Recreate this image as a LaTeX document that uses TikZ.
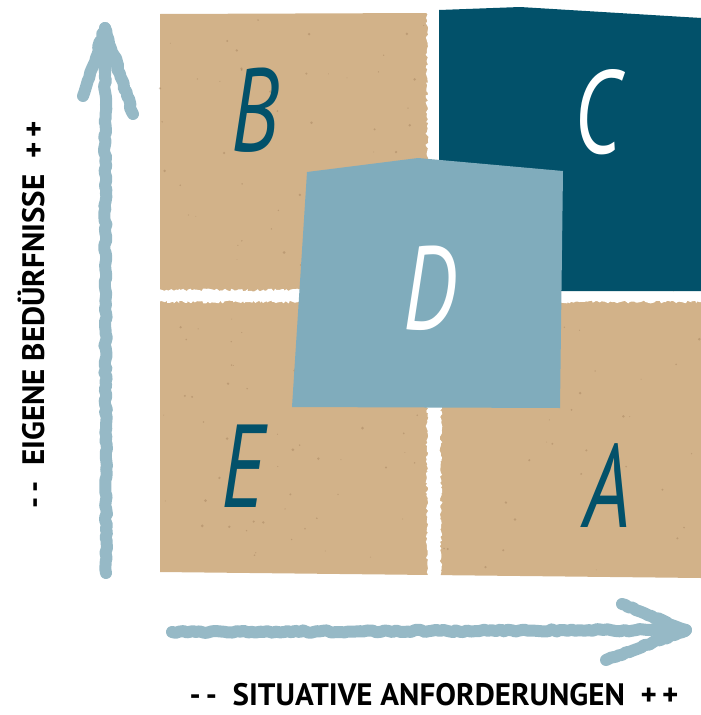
\documentclass[tikz,border=0pt]{standalone}
\usepackage{fontspec}
\setmainfont{PT Sans}
\newfontfamily\handfont{PT Sans}
\usetikzlibrary{decorations.pathmorphing}
\definecolor{kraft}{RGB}{210,178,137}
\definecolor{kraftdark}{RGB}{140,105,70}
\definecolor{darkteal}{RGB}{2,81,106}
\definecolor{lightteal}{RGB}{128,172,188}
\definecolor{chalk}{RGB}{150,185,198}
\tikzset{
  panel/.style={fill=kraft},
  gap/.style={fill=white, decorate, decoration={random steps, segment length=2pt, amplitude=1.4pt}},
  chalkline/.style={draw=chalk, line width=12pt, line cap=round, line join=round,
     decorate, decoration={random steps, segment length=4pt, amplitude=1.2pt}},
  letter/.style={font=\handfont\itshape\fontsize{118}{118}\selectfont, xscale=0.72, inner sep=0pt},
  axislabel/.style={font=\bfseries\fontsize{31}{31}\selectfont, inner sep=0pt, anchor=base}
}
\begin{document}
\begin{tikzpicture}[x=1pt,y=-1pt]
\useasboundingbox (0,0) rectangle (701,715);
% kraft background
\fill[panel] (160,14) -- (430,13) -- (701,18) -- (701,578) -- (160,572) -- cycle;
% speckles
\pgfmathsetseed{7}
\foreach \i in {1,...,200}{
  \pgfmathsetmacro{\px}{160+rnd*540}
  \pgfmathsetmacro{\py}{16+rnd*555}
  \pgfmathsetmacro{\pr}{0.4+rnd*1.1}
  \fill[kraftdark, opacity=0.3] (\px,\py) circle[radius=\pr];
}
% white gaps
\fill[gap] (427,10) rectangle (441,582);
\fill[gap] (158,290) rectangle (703,302);
% C panel
\fill[darkteal] (439,10) -- (520,7) -- (701,18) -- (701,291) -- (439,291) -- cycle;
% D panel
\fill[lightteal] (307,172) -- (418,158) -- (563,171) -- (560,408) -- (292,407) -- cycle;
% letters
\node[letter, text=darkteal] (B) at (255,110) {B};
\node[letter, text=white] (C) at (598,112) {C};
\node[letter, text=white] (D) at (430,288) {D};
\node[letter, text=darkteal] (E) at (243,466) {E};
\node[letter, text=darkteal] (A) at (607,486) {A};
% vertical arrow
\coordinate (vbot) at (106,573);
\coordinate (vtop) at (105,28);
\coordinate (vl) at (83,96);
\coordinate (vr) at (133,114);
\draw[chalkline] (vbot) -- (vtop);
\draw[chalkline] (vl) -- (vtop) -- (vr);
% horizontal arrow
\coordinate (hl) at (172,632);
\coordinate (hr) at (686,630);
\coordinate (hu) at (622,604);
\coordinate (hd) at (606,660);
\draw[chalkline] (hl) -- (hr);
\draw[chalkline] (hu) -- (hr) -- (hd);
% axis labels
\node[axislabel, rotate=90] (ylab) at (44,315) {-\,-\ \ EIGENE BEDÜRFNISSE\ \ +\,+};
\node[axislabel] (xlab) at (434,705) {-\,-\ \ SITUATIVE ANFORDERUNGEN\ \ +\,+};
\end{tikzpicture}
\end{document}
